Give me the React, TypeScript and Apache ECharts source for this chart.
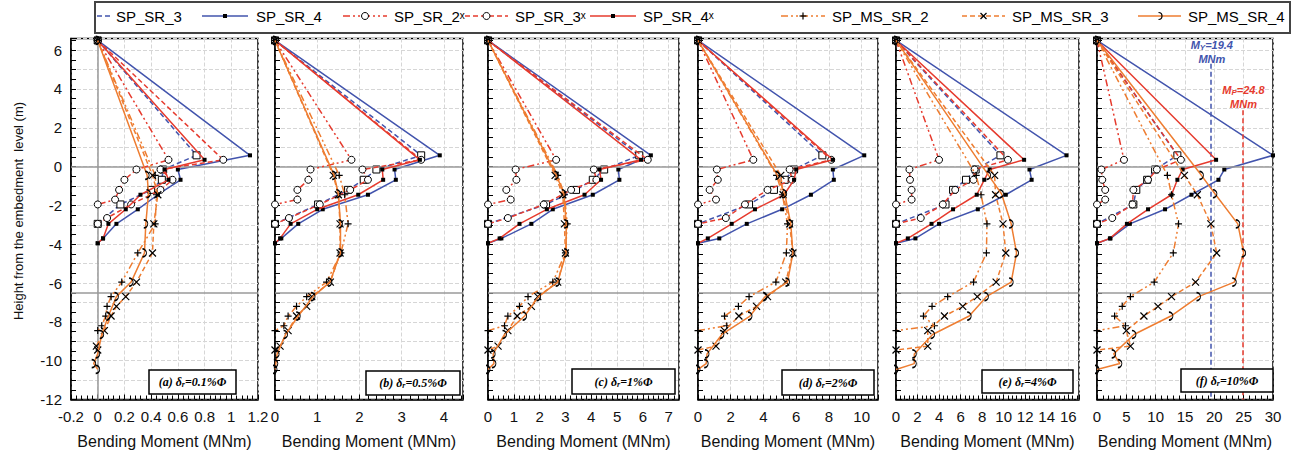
import React, { useEffect, useRef } from 'react';
import * as echarts from 'echarts';

// ---------------- data ----------------
const panelTags = ['(a)', '(b)', '(c)', '(d)', '(e)', '(f)'];
const driftLabels = ['0.1%', '0.5%', '1%', '2%', '4%', '10%'];

const xMins = [-0.2, 0, 0, 0, 0, 0];
const xMaxs = [1.2, 4.45, 7.4, 11, 17, 30];
const xIntervals = [0.2, 1, 1, 2, 2, 5];

const yMin = -12;
const yMax = 6.6;
const refDepths = [0, -6.5];
const MY = 19.4;
const MP = 24.8;

// depths (m) of the measured points
const depthSR2 = [6.5, 0.35, -0.15, -0.68, -1.2, -1.7, -1.95];
const depthSR3 = [6.5, 0.58, -0.15, -0.68, -1.2, -1.95, -2.95];
const depthSR3x = [6.5, 0.35, -0.15, -0.68, -1.2, -1.95, -2.65, -2.95];
const depthSR4 = [6.5, 0.58, -0.15, -0.68, -1.45, -2.2, -2.95, -3.7, -3.95];
const depthSR4x = [6.5, 0.35, -0.15, -0.68, -1.45, -2.2, -2.95, -3.7, -3.95];
const depthMS2 = [6.5, -0.45, -1.45, -2.95, -4.45, -5.95, -6.7, -7.2, -7.7, -8.2, -8.45];
const depthMS3 = [6.5, -0.45, -1.45, -2.95, -4.45, -5.95, -6.7, -7.2, -7.7, -8.45, -9.25, -9.45];
const depthMS4 = [6.5, -0.45, -1.4, -2.95, -4.45, -5.95, -6.7, -7.7, -8.65, -9.65, -10.15, -10.45];

// bending moments (MNm), one row per panel (a)..(f)
const SP_SR_3 = [
  [0, 0.74, 0.49, 0.48, 0.4, 0.17, 0],
  [0, 3.46, 2.4, 2.1, 1.73, 1.02, 0],
  [0, 5.86, 4.5, 4.06, 3.41, 2.25, 0],
  [0, 7.6, 5.87, 5.3, 4.64, 3.12, 0],
  [0, 9.7, 7.4, 6.5, 5.3, 4.6, 0],
  [0, 13.7, 9.9, 8.55, 6.7, 6.2, 0],
];
const SP_SR_4 = [
  [0, 1.14, 0.6, 0.62, 0.45, 0.3, 0.14, 0.04, 0],
  [0, 3.9, 2.83, 2.86, 2.2, 1.13, 0.55, 0.15, 0],
  [0, 6.31, 5.05, 5.09, 4.06, 2.51, 1.68, 0.52, 0],
  [0, 10.16, 8.24, 8.3, 6.9, 5.14, 2.98, 1.3, 0],
  [0, 15.84, 12.4, 12.6, 10.2, 7.6, 4.0, 1.8, 0],
  [0, 30.0, 21.7, 20.7, 16.1, 11.6, 5.6, 2.3, 0],
];
const SP_SR_2x = [
  [0, 0.53, 0.29, 0.2, 0.16, 0.13, 0],
  [0, 1.81, 0.84, 0.79, 0.53, 0.53, 0],
  [0, 2.64, 1.07, 1.1, 0.71, 0.88, 0],
  [0, 3.38, 1.15, 1.21, 0.71, 1.1, 0],
  [0, 4.0, 1.25, 1.3, 1.45, 1.45, 0],
  [0, 4.6, 0.75, 0.9, 1.4, 1.4, 0],
];
const SP_SR_3x = [
  [0, 0.94, 0.47, 0.56, 0.47, 0.25, 0.07, 0],
  [0, 3.46, 2.07, 2.2, 1.78, 1.06, 0.33, 0],
  [0, 6.19, 4.1, 4.2, 3.22, 2.16, 0.77, 0],
  [0, 8.14, 5.6, 5.75, 4.25, 2.87, 1.7, 0],
  [0, 10.4, 7.3, 7.2, 5.5, 4.35, 2.3, 0],
  [0, 14.3, 10.2, 8.7, 6.2, 6.05, 2.6, 0],
];
const SP_SR_4x = [
  [0, 0.8, 0.5, 0.53, 0.32, 0.21, 0.08, 0.04, 0],
  [0, 3.43, 2.54, 2.56, 1.97, 1.0, 0.37, 0.12, 0],
  [0, 5.93, 4.32, 4.38, 3.74, 2.28, 1.22, 0.45, 0],
  [0, 8.24, 6.0, 5.87, 5.26, 3.48, 2.06, 0.6, 0],
  [0, 11.9, 8.7, 8.2, 7.5, 5.3, 3.3, 1.1, 0],
  [0, 20.3, 14.6, 13.7, 12.7, 8.7, 5.1, 2.2, 0],
];
const SP_MS_SR_2 = [
  [0, 0.43, 0.44, 0.43, 0.3, 0.18, 0.1, 0.07, 0.06, 0.03, 0],
  [0, 1.52, 1.65, 1.73, 1.56, 1.22, 0.75, 0.51, 0.31, 0.21, 0],
  [0, 2.7, 2.96, 3.07, 3.0, 2.51, 1.55, 1.22, 0.77, 0.64, 0],
  [0, 4.8, 5.16, 5.47, 5.4, 4.76, 3.12, 2.47, 1.62, 1.76, 0],
  [0, 7.45, 7.9, 8.45, 8.4, 7.2, 4.8, 3.35, 2.55, 3.57, 0],
  [0, 12.0, 12.7, 13.9, 13.0, 9.75, 5.7, 4.3, 3.0, 4.85, 0],
];
const SP_MS_SR_3 = [
  [0, 0.41, 0.45, 0.42, 0.41, 0.29, 0.21, 0.14, 0.1, 0.05, -0.01, 0],
  [0, 1.38, 1.5, 1.54, 1.54, 1.31, 0.87, 0.75, 0.51, 0.31, 0.12, 0],
  [0, 2.6, 2.9, 2.96, 3.0, 2.7, 1.93, 1.68, 1.13, 0.77, 0.39, 0],
  [0, 5.06, 5.2, 5.6, 5.8, 5.36, 4.25, 3.58, 2.5, 1.62, 1.1, 0],
  [0, 9.16, 9.25, 9.94, 10.2, 9.3, 7.55, 6.2, 4.5, 2.95, 2.95, 0],
  [0, 14.9, 17.1, 19.4, 20.4, 16.8, 12.7, 10.4, 8.0, 5.0, 5.7, 0],
];
const SP_MS_SR_4 = [
  [0, 0.37, 0.38, 0.36, 0.35, 0.25, 0.14, 0.08, 0.03, 0.0, -0.03, 0],
  [0, 1.4, 1.5, 1.55, 1.55, 1.3, 0.9, 0.55, 0.25, 0.05, 0.02, 0],
  [0, 2.65, 2.94, 3.03, 3.03, 2.7, 1.96, 1.42, 0.64, 0.2, 0.23, 0],
  [0, 4.85, 5.3, 5.67, 5.8, 5.47, 4.1, 3.18, 1.46, 0.55, 0.5, 0],
  [0, 8.6, 9.8, 10.7, 11.2, 10.7, 8.4, 6.8, 3.4, 1.7, 1.7, 0],
  [0, 17.8, 20.1, 24.0, 25.0, 23.4, 17.3, 12.6, 6.3, 2.85, 3.9, 0],
];

// ---------------- styles / layout ----------------
const BLUE = '#4254ad';
const RED = '#e63b2e';
const ORANGE = '#ee7d31';
const SANS = "'Liberation Sans', Arial, sans-serif";
const SERIF = "'Liberation Serif', 'Times New Roman', serif";
const DASH_DDOT = [7, 3, 2, 3, 2, 3];
const DASH = [5, 3];

const GRIDS = [
  { left: 71, width: 187 },
  { left: 275, width: 188 },
  { left: 488, width: 191 },
  { left: 698, width: 180 },
  { left: 896, width: 183 },
  { left: 1097, width: 176 },
];
const GRID_TOP = 38.5;
const GRID_H = 361;

const PLUS_PATH = 'path://M5,0L5,10M0,5L10,5';
const CROSS_PATH = 'path://M0,0L10,10M10,0L0,10';
const HOOK_PATH = 'path://M0,0 A5,5 0 0,1 0,10';

type Def = {
  name: string; depth: number[]; values: number[][]; color: string;
  dash: any; marker: 'sq' | 'dot' | 'circ' | 'plus' | 'cross' | 'hook';
};

const DEFS: Def[] = [
  { name: 'SP_SR_3', depth: depthSR3, values: SP_SR_3, color: BLUE, dash: DASH, marker: 'sq' },
  { name: 'SP_SR_4', depth: depthSR4, values: SP_SR_4, color: BLUE, dash: 'solid', marker: 'dot' },
  { name: 'SP_SR_2ˣ', depth: depthSR2, values: SP_SR_2x, color: RED, dash: DASH_DDOT, marker: 'circ' },
  { name: 'SP_SR_3ˣ', depth: depthSR3x, values: SP_SR_3x, color: RED, dash: DASH, marker: 'circ' },
  { name: 'SP_SR_4ˣ', depth: depthSR4x, values: SP_SR_4x, color: RED, dash: 'solid', marker: 'dot' },
  { name: 'SP_MS_SR_2', depth: depthMS2, values: SP_MS_SR_2, color: ORANGE, dash: DASH_DDOT, marker: 'plus' },
  { name: 'SP_MS_SR_3', depth: depthMS3, values: SP_MS_SR_3, color: ORANGE, dash: DASH, marker: 'cross' },
  { name: 'SP_MS_SR_4', depth: depthMS4, values: SP_MS_SR_4, color: ORANGE, dash: 'solid', marker: 'hook' },
];

function symbolFor(m: Def['marker']) {
  switch (m) {
    case 'sq': return { symbol: 'rect', symbolSize: 7, itemStyle: { color: '#fff', borderColor: '#000', borderWidth: 1 } };
    case 'dot': return { symbol: 'rect', symbolSize: 4, itemStyle: { color: '#000', borderWidth: 0 } };
    case 'circ': return { symbol: 'circle', symbolSize: 7, itemStyle: { color: '#fff', borderColor: '#000', borderWidth: 1 } };
    case 'plus': return { symbol: PLUS_PATH, symbolSize: 7, itemStyle: { color: '#000', borderColor: '#000', borderWidth: 1.2 } };
    case 'cross': return { symbol: CROSS_PATH, symbolSize: 7, itemStyle: { color: '#000', borderColor: '#000', borderWidth: 1.2 } };
    default: return { symbol: HOOK_PATH, symbolSize: [4, 8], itemStyle: { color: 'none', borderColor: '#000', borderWidth: 1.2 } };
  }
}

const LEGEND_POS = [
  { x1: 97, x2: 110, tx: 116, marker: false },
  { x1: 202, x2: 248, tx: 256, marker: true },
  { x1: 343, x2: 387, tx: 394, marker: true },
  { x1: 465, x2: 508, tx: 515, marker: true },
  { x1: 590, x2: 636, tx: 643, marker: true },
  { x1: 781, x2: 825, tx: 832, marker: true },
  { x1: 962, x2: 1005, tx: 1012, marker: true },
  { x1: 1138, x2: 1181, tx: 1188, marker: true },
];
const LEG_Y = 16;

const PANEL_BOXES = [
  { x: 149, y: 370, w: 87, h: 24 },
  { x: 366, y: 371, w: 94, h: 24 },
  { x: 572, y: 369, w: 103, h: 25 },
  { x: 782, y: 370, w: 92, h: 25 },
  { x: 982, y: 370, w: 91, h: 23 },
  { x: 1181, y: 369, w: 92, h: 23 },
];

function legendMarker(m: Def['marker'], cx: number, cy: number): any[] {
  const st = { stroke: '#000', lineWidth: 1 };
  switch (m) {
    case 'sq': return [{ type: 'rect', shape: { x: cx - 3.5, y: cy - 3.5, width: 7, height: 7 }, style: { fill: '#fff', ...st }, z: 101 }];
    case 'dot': return [{ type: 'rect', shape: { x: cx - 2, y: cy - 2, width: 4, height: 4 }, style: { fill: '#000' }, z: 101 }];
    case 'circ': return [{ type: 'circle', shape: { cx, cy, r: 3.5 }, style: { fill: '#fff', ...st }, z: 101 }];
    case 'plus': return [
      { type: 'line', shape: { x1: cx - 3.5, y1: cy, x2: cx + 3.5, y2: cy }, style: { stroke: '#000', lineWidth: 1.2 }, z: 101 },
      { type: 'line', shape: { x1: cx, y1: cy - 3.5, x2: cx, y2: cy + 3.5 }, style: { stroke: '#000', lineWidth: 1.2 }, z: 101 },
    ];
    case 'cross': return [
      { type: 'line', shape: { x1: cx - 3, y1: cy - 3, x2: cx + 3, y2: cy + 3 }, style: { stroke: '#000', lineWidth: 1.2 }, z: 101 },
      { type: 'line', shape: { x1: cx + 3, y1: cy - 3, x2: cx - 3, y2: cy + 3 }, style: { stroke: '#000', lineWidth: 1.2 }, z: 101 },
    ];
    default: return [{ type: 'arc', shape: { cx: cx - 1, cy, r: 3.5, startAngle: -Math.PI / 2, endAngle: Math.PI / 2 }, style: { stroke: '#000', fill: 'none', lineWidth: 1.2 }, z: 101 }];
  }
}

function buildOption() {
  const grid = GRIDS.map((g) => ({
    left: g.left, width: g.width, top: GRID_TOP, height: GRID_H,
    show: true, borderColor: '#000', borderWidth: 1.5, backgroundColor: 'transparent',
  }));

  const xAxis = GRIDS.map((_, i) => {
    const onTick = Math.abs(Math.round(xMaxs[i] / xIntervals[i]) * xIntervals[i] - xMaxs[i]) < 1e-9;
    return {
      type: 'value', gridIndex: i, min: xMins[i], max: xMaxs[i], interval: xIntervals[i],
      name: 'Bending Moment (MNm)', nameLocation: 'middle', nameGap: 34,
      nameTextStyle: { fontSize: 16, color: '#111', fontFamily: SANS },
      axisLine: { show: true, onZero: false, lineStyle: { color: '#000', width: 1.5 } },
      axisTick: { show: true, inside: true, length: 5, lineStyle: { color: '#000', width: 1 } },
      minorTick: { show: true, splitNumber: 5, length: 4, lineStyle: { color: '#000', width: 1 } },
      axisLabel: { fontSize: 15, color: '#111', fontFamily: SANS, margin: 9, showMaxLabel: onTick },
      splitLine: { show: true, lineStyle: { color: '#d6d6d6', type: 'dashed', width: 1 } },
    };
  });

  const yAxis = GRIDS.map((_, i) => ({
    type: 'value', gridIndex: i, min: yMin, max: yMax, interval: 1,
    axisLine: { show: true, onZero: false, lineStyle: { color: '#000', width: 1.5 } },
    axisTick: { show: true, inside: true, length: 5, lineStyle: { color: '#000', width: 1 } },
    minorTick: { show: true, splitNumber: 2, length: 5, lineStyle: { color: '#000', width: 1 } },
    axisLabel: {
      show: i === 0, fontSize: 15, color: '#111', fontFamily: SANS, margin: 9, showMaxLabel: false,
      formatter: (v: number) => (Math.abs(v - Math.round(v)) < 1e-6 && Math.round(v) % 2 === 0 ? String(Math.round(v)) : ''),
    },
    splitLine: { show: true, lineStyle: { color: '#d6d6d6', type: 'dashed', width: 1 } },
  }));

  const series: any[] = [];
  GRIDS.forEach((_, p) => {
    DEFS.forEach((d, k) => {
      const s: any = {
        type: 'line', name: d.name, xAxisIndex: p, yAxisIndex: p,
        data: d.values[p].map((v, j) => [v, d.depth[j]]),
        showSymbol: true, ...symbolFor(d.marker),
        lineStyle: { color: d.color, width: 1.5, type: d.dash },
        z: 3 + k, silent: true, animation: false,
      };
      if (k === 0) {
        const ml: any[] = refDepths.map((y) => ({ yAxis: y }));
        if (xMins[p] < 0) ml.push({ xAxis: 0 });
        s.markLine = {
          silent: true, symbol: ['none', 'none'], label: { show: false }, animation: false,
          lineStyle: { color: '#9a9a9a', width: 1.5, type: 'solid' }, data: ml,
        };
      }
      series.push(s);
    });
  });
  // yield / plastic moment lines in panel (f)
  series.push({
    type: 'line', xAxisIndex: 5, yAxisIndex: 5, data: [], silent: true,
    markLine: {
      silent: true, symbol: ['none', 'none'], label: { show: false }, animation: false,
      data: [
        [{ coord: [MY, 5.3], lineStyle: { color: BLUE, type: [5, 3], width: 1.5 } }, { coord: [MY, yMin] }],
        [{ coord: [MP, 2.9], lineStyle: { color: RED, type: [5, 3], width: 1.5 } }, { coord: [MP, yMin] }],
      ],
    },
  });

  const elements: any[] = [];
  // legend box
  elements.push({ type: 'rect', shape: { x: 95, y: 2, width: 1195, height: 31 }, style: { fill: '#fff', stroke: '#444', lineWidth: 2 }, z: 100 });
  DEFS.forEach((d, k) => {
    const pos = LEGEND_POS[k];
    elements.push({
      type: 'line', shape: { x1: pos.x1, y1: LEG_Y, x2: pos.x2, y2: LEG_Y },
      style: { stroke: d.color, lineWidth: 1.5, lineDash: Array.isArray(d.dash) ? d.dash : null }, z: 101,
    });
    if (pos.marker) elements.push(...legendMarker(d.marker, (pos.x1 + pos.x2) / 2, LEG_Y));
    elements.push({
      type: 'text', x: pos.tx, y: LEG_Y, z: 101,
      style: { text: d.name, font: `15px ${SANS}`, fill: '#000', textAlign: 'left', align: 'left', textVerticalAlign: 'middle', verticalAlign: 'middle' },
    });
  });

  // y axis name
  elements.push({
    type: 'text', x: 18, y: 211, rotation: Math.PI / 2, z: 101,
    style: { text: 'Height from the embedment  level (m)', font: `13px ${SANS}`, fill: '#111', textAlign: 'center', align: 'center', textVerticalAlign: 'middle', verticalAlign: 'middle' },
  });

  // panel labels
  const tStyle = { fontFamily: SERIF, fontWeight: 'bold', fontStyle: 'italic', fontSize: 12, fill: '#000' };
  PANEL_BOXES.forEach((b, p) => {
    elements.push({ type: 'rect', shape: { x: b.x, y: b.y, width: b.w, height: b.h }, style: { fill: '#fff', stroke: '#000', lineWidth: 1.5 }, z: 100 });
    elements.push({
      type: 'text', x: b.x + b.w / 2, y: b.y + b.h / 2, z: 101,
      style: {
        text: `{t|${panelTags[p]} δ}{s|r}{t|=${driftLabels[p]}Φ}`,
        rich: { t: { ...tStyle }, s: { ...tStyle, fontSize: 8, padding: [5, 0, 0, 0] } },
        textAlign: 'center', align: 'center', textVerticalAlign: 'middle', verticalAlign: 'middle',
      },
    });
  });

  // moment annotations in panel (f)
  const g5 = GRIDS[5];
  const px = (v: number) => g5.left + ((v - xMins[5]) / (xMaxs[5] - xMins[5])) * g5.width;
  const aStyle = (c: string) => ({ fontFamily: SANS, fontWeight: 'bold', fontStyle: 'italic', fontSize: 11, fill: c, lineHeight: 14 });
  [
    { v: MY, c: BLUE, sub: 'Y', y: 52 },
    { v: MP, c: RED, sub: 'P', y: 97 },
  ].forEach((a) => {
    elements.push({
      type: 'text', x: px(a.v) + 1, y: a.y, z: 101,
      style: {
        text: `{m|M}{s|${a.sub}}{m|=${a.v}}\n{m|MNm}`,
        rich: { m: aStyle(a.c), s: { ...aStyle(a.c), fontSize: 8, padding: [4, 0, 0, 0] } },
        textAlign: 'center', align: 'center', textVerticalAlign: 'middle', verticalAlign: 'middle',
      },
    });
  });

  return {
    animation: false,
    backgroundColor: '#fff',
    textStyle: { fontFamily: SANS },
    grid, xAxis, yAxis, series,
    graphic: { elements },
  };
}

export default function App() {
  const ref = useRef<HTMLDivElement>(null);
  useEffect(() => {
    if (!ref.current) return;
    const chart = echarts.init(ref.current, null, { renderer: 'svg' });
    chart.setOption(buildOption() as any);
    return () => chart.dispose();
  }, []);
  return <div ref={ref} style={{ position: 'absolute', left: 0, top: 0, width: 1301, height: 461 }} />;
}
